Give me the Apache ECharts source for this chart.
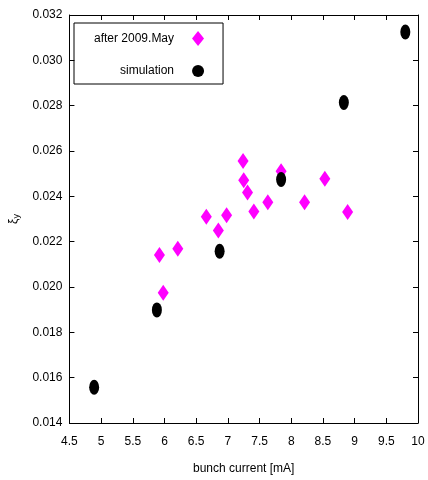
<!DOCTYPE html>
<html><head><meta charset="utf-8">
<script src="https://cdn.jsdelivr.net/npm/echarts@6/dist/echarts.min.js"></script>
<style>html,body{margin:0;padding:0;background:#fff}#c{width:428px;height:480px}</style>
</head><body><div id="c"></div>
<script>
const afterX = [5.92, 5.98, 6.21, 6.66, 6.85, 6.98, 7.24, 7.25, 7.31, 7.41, 7.63, 7.84, 8.21, 8.53, 8.89];
const afterY = [0.02141, 0.01975, 0.02169, 0.02310, 0.02249, 0.02316, 0.02556, 0.02471, 0.02417, 0.02333, 0.02374, 0.02511, 0.02374, 0.02478, 0.02331];
const simX = [4.89, 5.88, 6.87, 7.84, 8.83, 9.80];
const simY = [0.01558, 0.01899, 0.02158, 0.02474, 0.02814, 0.03125];
const seriesNames = ['after 2009.May', 'simulation'];
const xLabel = 'bunch current [mA]';

const FONT = "'Liberation Sans Narrow', 'Liberation Sans', Arial, sans-serif";
const zip = (a, b) => a.map((v, i) => [v, b[i]]);
const chart = echarts.init(document.getElementById('c'), null, {renderer: 'canvas'});
const axisCommon = {
  axisLine: {show: true, onZero: false, lineStyle: {color: '#000', width: 1}},
  axisTick: {show: true, inside: true, length: 5, lineStyle: {color: '#000'}},
  splitLine: {show: false}
};
chart.setOption({
  animation: false,
  grid: {left: 67, right: 10, top: 15, bottom: 55},
  xAxis: [
    Object.assign({type: 'value', min: 4.5, max: 10, interval: 0.5, position: 'bottom',
      axisLabel: {color: '#000', fontFamily: FONT, fontSize: 12, margin: 13,
        formatter: v => String(Math.round(v * 10) / 10)},
      name: xLabel, nameLocation: 'middle', nameGap: 40,
      nameTextStyle: {color: '#000', fontFamily: FONT, fontSize: 12}}, axisCommon),
    Object.assign({type: 'value', min: 4.5, max: 10, interval: 0.5, position: 'top',
      axisLabel: {show: false}}, axisCommon)
  ],
  yAxis: [
    Object.assign({type: 'value', min: 0.014, max: 0.032, interval: 0.002, position: 'left',
      axisLabel: {color: '#000', fontFamily: FONT, fontSize: 12, margin: 7,
        formatter: v => v.toFixed(3)},
      name: '{a|ξ}{b|y}', nameLocation: 'middle', nameGap: 34,
      nameTextStyle: {color: '#000', fontFamily: FONT, fontSize: 12,
        rich: {a: {fontSize: 12, fontFamily: FONT, color: '#000'}, b: {fontSize: 9, fontFamily: FONT, color: '#000', verticalAlign: 'bottom', padding: [6, 0, 0, 0]}}}}, axisCommon),
    Object.assign({type: 'value', min: 0.014, max: 0.032, interval: 0.002, position: 'right',
      axisLabel: {show: false}}, axisCommon)
  ],
  legend: {
    orient: 'vertical', align: 'right', left: 74, top: 23,
    borderColor: '#000', borderWidth: 1, borderRadius: 0,
    padding: [8, 19, 7, 20], itemGap: 19,
    itemWidth: 12, itemHeight: 15,
    textStyle: {color: '#000', fontFamily: FONT, fontSize: 12, padding: [0, 13, 0, 0]},
    data: [
      {name: seriesNames[0], icon: 'diamond'},
      {name: seriesNames[1], icon: 'circle'}
    ]
  },
  series: [
    {name: seriesNames[0], type: 'scatter', symbol: 'diamond', symbolSize: [11, 16],
      itemStyle: {color: '#ff00ff', opacity: 1}, data: zip(afterX, afterY), z: 2},
    {name: seriesNames[1], type: 'scatter', symbol: 'circle', symbolSize: [10, 15],
      itemStyle: {color: '#000', opacity: 1}, data: zip(simX, simY), z: 3}
  ]
});
</script></body></html>
